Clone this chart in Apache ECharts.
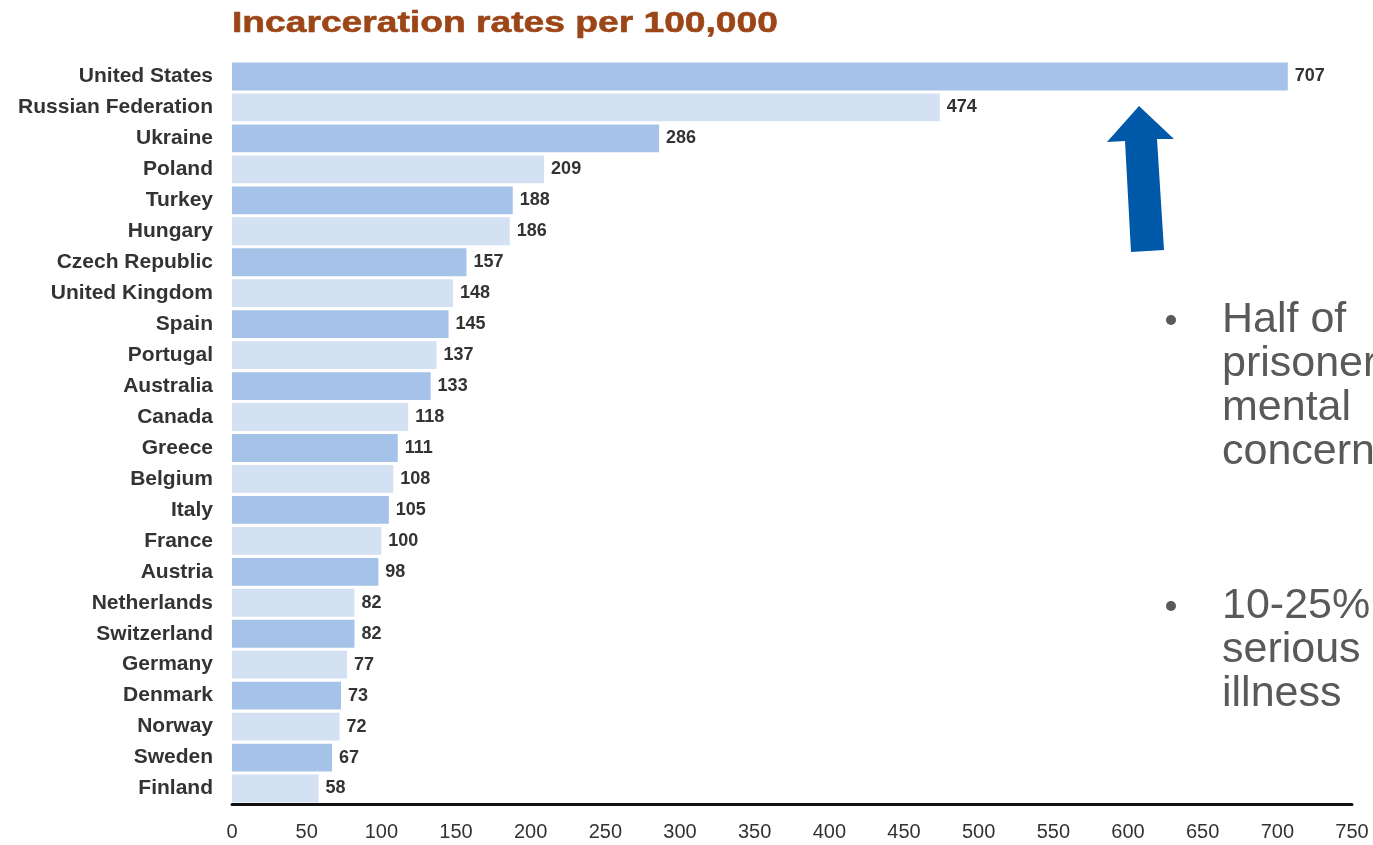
<!DOCTYPE html>
<html>
<head>
<meta charset="utf-8">
<script src="https://cdn.jsdelivr.net/npm/echarts@6/dist/echarts.min.js"></script>
<style>
html,body{margin:0;padding:0;background:#ffffff;}
#chart{width:1373px;height:845px;}
</style>
</head>
<body>
<div id="chart"></div>
<script>
const titleText = 'Incarceration rates per 100,000';
const countries = ['United States','Russian Federation','Ukraine','Poland','Turkey','Hungary','Czech Republic','United Kingdom','Spain','Portugal','Australia','Canada','Greece','Belgium','Italy','France','Austria','Netherlands','Switzerland','Germany','Denmark','Norway','Sweden','Finland'];
const rates = [707,474,286,209,188,186,157,148,145,137,133,118,111,108,105,100,98,82,82,77,73,72,67,58];
const xTicks = {min:0, max:750, interval:50};
const bullet1 = ['Half of','prisoners have','mental','concerns'];
const bullet2 = ['10-25% have','serious','illness'];

const chart = echarts.init(document.getElementById('chart'), null, {renderer:'canvas'});
const dark = '#a5c2e8';
const light = '#d3e1f3';
const textFont = '"Liberation Sans", Arial, Helvetica, sans-serif';

function lines(arr, x, yc, step) {
  return arr.map((t, i) => ({
    type:'text', x:x, y:yc + i*step, silent:true,
    style:{text:t, font:'43px ' + textFont, fill:'#595959', verticalAlign:'middle', align:'left'}
  }));
}

chart.setOption({
  backgroundColor:'#ffffff',
  animation:false,
  grid:{left:232, top:61, width:1120, height:743, containLabel:false},
  xAxis:{
    type:'value', min:xTicks.min, max:xTicks.max, interval:xTicks.interval,
    axisLine:{show:true, lineStyle:{color:'#111', width:3}},
    axisTick:{show:false},
    splitLine:{show:false},
    axisLabel:{color:'#333', fontSize:20, fontFamily:textFont, margin:18}
  },
  yAxis:{
    type:'category', data:countries, inverse:true,
    axisLine:{show:false}, axisTick:{show:false},
    axisLabel:{color:'#333', fontSize:21, fontWeight:'bold', fontFamily:textFont, margin:19}
  },
  series:[{
    type:'bar', data:rates, barCategoryGap:'10%',
    itemStyle:{color:p => p.dataIndex % 2 === 0 ? dark : light},
    label:{show:true, position:'right', distance:7, color:'#333', fontSize:18, fontWeight:'bold', fontFamily:textFont}
  }],
  graphic:[
    {type:'text', x:232, y:24, scaleX:1.24, silent:true,
     style:{text:titleText, font:'bold 30px ' + textFont, fill:'#9c4618', stroke:'#9c4618', lineWidth:0.6, verticalAlign:'middle'}},
    {type:'polygon', silent:true,
     shape:{points:[[1139,106],[1174,139],[1157,139],[1164,250],[1131,252],[1125,141],[1107,142]]},
     style:{fill:'#0059a8'}},
    {type:'circle', silent:true, shape:{cx:1171, cy:320, r:5}, style:{fill:'#595959'}},
    {type:'circle', silent:true, shape:{cx:1171, cy:606, r:5}, style:{fill:'#595959'}},
    ...lines(bullet1, 1222, 320, 44),
    ...lines(bullet2, 1222, 606, 44)
  ]
});
</script>
</body>
</html>
